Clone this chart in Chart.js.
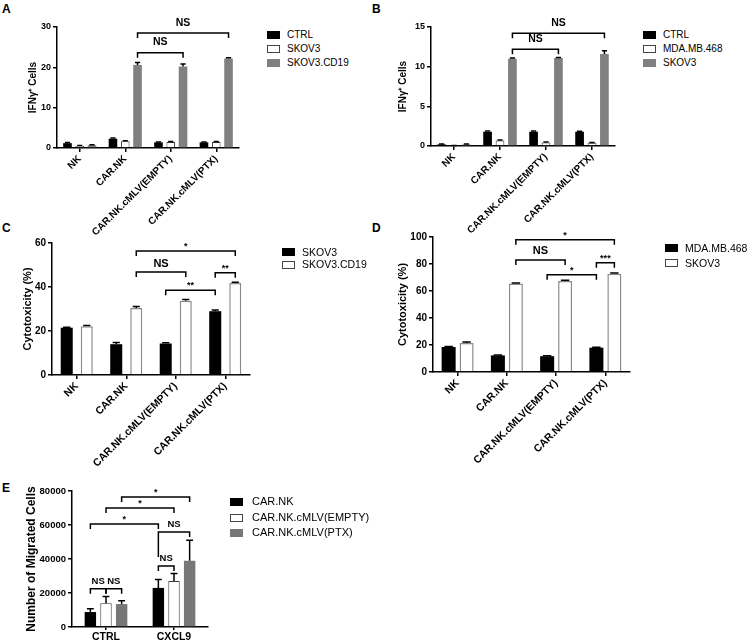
<!DOCTYPE html>
<html>
<head>
<meta charset="utf-8">
<script src="https://cdn.jsdelivr.net/npm/chart.js@4.4.0/dist/chart.umd.min.js"></script>
<style>
  body { margin:0; background:#fff; width:753px; height:642px; position:relative; overflow:hidden;
         font-family:"Liberation Sans", Arial, sans-serif; }
  canvas { position:absolute; }
  .lt { position:absolute; font-weight:bold; font-size:12px; line-height:12px; }
  .sw { position:absolute; width:11px; height:6px; }
  .lg { position:absolute; white-space:nowrap; color:#000; }
</style>
</head>
<body>
<div class="lt" style="left:2px;top:3px">A</div>
<div class="lt" style="left:372px;top:3px">B</div>
<div class="lt" style="left:2px;top:222px">C</div>
<div class="lt" style="left:372px;top:222px">D</div>
<div class="lt" style="left:2px;top:482px">E</div>

<canvas id="cA" width="250" height="250" style="left:0px;top:0px"></canvas>
<canvas id="cB" width="250" height="250" style="left:375px;top:0px"></canvas>
<canvas id="cC" width="260" height="250" style="left:0px;top:220px"></canvas>
<canvas id="cD" width="265" height="250" style="left:375px;top:220px"></canvas>
<canvas id="cE" width="215" height="172" style="left:0px;top:470px"></canvas>

<script>
// groups on the x axis (A-D)
var groups = ['NK', 'CAR.NK', 'CAR.NK.cMLV(EMPTY)', 'CAR.NK.cMLV(PTX)'];

// A - IFNg+ cells
var aSeries = ['CTRL', 'SKOV3', 'SKOV3.CD19'];
var aCtrl = [1.2, 2.3, 1.4, 1.4];
var aSkov3 = [0.5, 1.7, 1.5, 1.5];
var aCd19 = [0.7, 20.6, 20.2, 22.2];
var aCtrlErr = [0.15, 0.2, 0.1, 0.1];
var aSkov3Err = [0.1, 0.1, 0.1, 0.1];
var aCd19Err = [0.1, 0.6, 0.6, 0.2];
var aTicks = [0, 10, 20, 30];

// B - IFNg+ cells
var bSeries = ['CTRL', 'MDA.MB.468', 'SKOV3'];
var bCtrl = [0.2, 1.8, 1.8, 1.8];
var bMda = [0.05, 0.7, 0.45, 0.4];
var bSkov3 = [0.2, 11.0, 11.1, 11.6];
var bCtrlErr = [0.05, 0.1, 0.1, 0.05];
var bMdaErr = [0.02, 0.05, 0.05, 0.05];
var bSkov3Err = [0.05, 0.1, 0.05, 0.4];
var bTicks = [0, 5, 10, 15];

// C - cytotoxicity
var cSeries = ['SKOV3', 'SKOV3.CD19'];
var cSkov3 = [21.5, 14.0, 14.3, 29.0];
var cCd19 = [22.2, 30.5, 33.8, 41.8];
var cSkov3Err = [0.2, 0.8, 0.4, 0.6];
var cCd19Err = [0.3, 0.6, 0.5, 0.4];
var cTicks = [0, 20, 40, 60];

// D - cytotoxicity
var dSeries = ['MDA.MB.468', 'SKOV3'];
var dMda = [18.5, 12.3, 11.7, 18.0];
var dSkov3 = [21.5, 65.5, 67.5, 72.8];
var dMdaErr = [0.3, 0.3, 0.4, 0.3];
var dSkov3Err = [0.8, 0.5, 0.5, 0.5];
var dTicks = [0, 20, 40, 60, 80, 100];

// E - migration
var eGroups = ['CTRL', 'CXCL9'];
var eSeries = ['CAR.NK', 'CAR.NK.cMLV(EMPTY)', 'CAR.NK.cMLV(PTX)'];
var eCarNk = [8800, 23000];
var eEmpty = [14000, 27000];
var ePtx = [13500, 39000];
var eCarNkErr = [2000, 5000];
var eEmptyErr = [4000, 4500];
var ePtxErr = [2000, 12000];
var eTicks = [0, 20000, 40000, 60000, 80000];

// significance brackets: [group, series] -> [group, series], height, text
var aBrackets = [[1, 2, 2, 2, 23.6, 'NS'], [1, 2, 3, 2, 28.5, 'NS']];
var bBrackets = [[1, 2, 2, 2, 12.2, 'NS'], [1, 2, 3, 2, 14.2, 'NS']];
var cBrackets = [[1, 1, 3, 1, 56.4, '*'], [1, 1, 2, 1, 46.8, 'NS'], [2, 0, 3, 0, 38.5, '**'], [3, 0, 3, 1, 46.5, '**']];
var dBrackets = [[1, 1, 3, 1, 98, '*'], [1, 1, 2, 1, 83, 'NS'], [2, 0, 3, 0, 72, '*'], [3, 0, 3, 1, 81, '***']];
var eBrackets = [[0, 0, 0, 1, 22500, 'NS'], [0, 1, 0, 2, 22500, 'NS'], [1, 0, 1, 1, 35900, 'NS'],
                 [1, 0, 1, 2, 55900, 'NS', 25], [0, 0, 1, 0, 60600, '*'], [0, 1, 1, 1, 70000, '*'], [0, 2, 1, 2, 76500, '*']];

var F = '"Liberation Sans", Arial, sans-serif';
var BLACK = {bg: '#000', bd: '#000', bw: 0};
var WHITE = {bg: '#fff', bd: '#3a3a3a', bw: 1};
var WHITE2 = {bg: '#fff', bd: '#8a8a8a', bw: 1.5};
var GRAY = {bg: '#808080', bd: '#808080', bw: 0};
var GRAY2 = {bg: '#777', bd: '#777', bw: 0};

var BRK = {};

var extras = {
  id: 'extras',
  afterDatasetsDraw: function(chart) {
    var ctx = chart.ctx, ys = chart.scales.y;
    var cfg = BRK[chart.canvas.id];
    ctx.save();
    ctx.strokeStyle = '#000';
    ctx.lineWidth = 1.5;
    chart.data.datasets.forEach(function(ds, di) {
      var meta = chart.getDatasetMeta(di);
      meta.data.forEach(function(bar, gi) {
        var e = ds.err[gi];
        if (!e) return;
        var top = ys.getPixelForValue(ds.data[gi] + e);
        var half = bar.width * 0.3;
        ctx.beginPath();
        ctx.moveTo(bar.x, bar.y);
        ctx.lineTo(bar.x, top);
        ctx.moveTo(bar.x - half, top);
        ctx.lineTo(bar.x + half, top);
        ctx.stroke();
      });
    });
    cfg.list.forEach(function(b) {
      var p1 = chart.getDatasetMeta(b[1]).data[b[0]];
      var p2 = chart.getDatasetMeta(b[3]).data[b[2]];
      var y = ys.getPixelForValue(b[4]);
      var dl = b[6] || 5;
      ctx.beginPath();
      ctx.moveTo(p1.x, y + dl);
      ctx.lineTo(p1.x, y);
      ctx.lineTo(p2.x, y);
      ctx.lineTo(p2.x, y + 5);
      ctx.stroke();
      var star = b[5].charAt(0) == '*';
      ctx.fillStyle = '#000';
      ctx.font = 'bold ' + (star ? cfg.star : cfg.ns) + 'px ' + F;
      ctx.textAlign = 'center';
      ctx.textBaseline = 'bottom';
      ctx.fillText(b[5], (p1.x + p2.x) / 2, y - (star ? 0 : cfg.gap));
    });
    ctx.restore();
  }
};

function makeSets(names, values, errs, styles) {
  return names.map(function(n, i) {
    return {
      label: n, data: values[i], err: errs[i],
      backgroundColor: styles[i].bg, borderColor: styles[i].bd, borderWidth: styles[i].bw
    };
  });
}

function legend(x, tx, y, step, names, styles, size) {
  names.forEach(function(n, i) {
    var yc = y + i * step;
    var sw = document.createElement('div');
    sw.className = 'sw';
    sw.style.left = x + 'px';
    sw.style.top = (yc - 4) + 'px';
    sw.style.background = styles[i].bg;
    sw.style.border = '1px solid ' + (styles[i].bw ? '#444' : styles[i].bg);
    document.body.appendChild(sw);
    var t = document.createElement('div');
    t.className = 'lg';
    t.textContent = n;
    t.style.left = tx + 'px';
    t.style.top = (yc - size * 0.6) + 'px';
    t.style.fontSize = size + 'px';
    t.style.lineHeight = (size * 1.2) + 'px';
    document.body.appendChild(t);
  });
}

function panel(id, labels, sets, ticks, title, g) {
  var yMax = ticks[ticks.length - 1];
  BRK[id] = {list: g.brk, ns: g.ns, star: g.star, gap: g.gap};
  sets.forEach(function(s) { s.categoryPercentage = g.cp; s.barPercentage = g.bp; });
  return new Chart(document.getElementById(id), {
    type: 'bar',
    data: {labels: labels, datasets: sets},
    plugins: [extras],
    options: {
      responsive: false,
      animation: false,
      layout: {padding: {left: 0, bottom: 0, top: g.top - g.cy, right: g.cx + g.w - g.right}},
      plugins: {legend: {display: false}, tooltip: {enabled: false}},
      scales: {
        x: {
          grid: {display: true, drawOnChartArea: false, offset: false, tickLength: g.xtl, color: '#000', lineWidth: 1.5},
          border: {color: '#000', width: 1.5},
          ticks: {autoSkip: false, maxRotation: g.rot, minRotation: g.rot, color: '#000', padding: 1,
                  font: {family: F, size: g.xs, weight: 'bold'}},
          afterFit: function(s) { s.height = g.cy + g.h - g.bottom; }
        },
        y: {
          min: 0, max: yMax,
          grid: {display: true, drawOnChartArea: false, tickLength: 4, color: '#000', lineWidth: 1.5},
          border: {color: '#000', width: 1.5},
          ticks: {stepSize: ticks[1] - ticks[0], color: '#000', padding: 2,
                  font: {family: F, size: g.ys, weight: 'bold'},
                  callback: function(v) { return String(v); }},
          title: {display: true, text: title, color: '#000',
                  font: {family: F, size: g.ts, weight: 'bold'},
                  padding: {top: g.tx - g.cx - g.ts * 0.6, bottom: 0}},
          afterFit: function(s) { s.width = g.left - g.cx; }
        }
      }
    }
  });
}

panel('cA', groups,
  makeSets(aSeries, [aCtrl, aSkov3, aCd19], [aCtrlErr, aSkov3Err, aCd19Err], [BLACK, WHITE, GRAY]),
  aTicks, 'IFNγ⁺ Cells',
  {cx: 0, cy: 0, w: 250, h: 250, left: 57, right: 239, top: 27, bottom: 148, tx: 33,
   cp: 0.81, bp: 0.7, rot: 45, xs: 10, ys: 9, ts: 10, xtl: 4, brk: aBrackets, ns: 10.5, star: 10, gap: 5});

panel('cB', groups,
  makeSets(bSeries, [bCtrl, bMda, bSkov3], [bCtrlErr, bMdaErr, bSkov3Err], [BLACK, WHITE, GRAY]),
  bTicks, 'IFNγ⁺ Cells',
  {cx: 375, cy: 0, w: 250, h: 250, left: 431, right: 615, top: 27, bottom: 146, tx: 403,
   cp: 0.81, bp: 0.7, rot: 45, xs: 10, ys: 9, ts: 10, xtl: 4, brk: bBrackets, ns: 10.5, star: 10, gap: 5});

panel('cC', groups,
  makeSets(cSeries, [cSkov3, cCd19], [cSkov3Err, cCd19Err], [BLACK, WHITE2]),
  cTicks, 'Cytotoxicity (%)',
  {cx: 0, cy: 220, w: 260, h: 250, left: 52, right: 250, top: 243, bottom: 375, tx: 28,
   cp: 0.81, bp: 0.6, rot: 45, xs: 10.5, ys: 10, ts: 11, xtl: 4, brk: cBrackets, ns: 11, star: 9, gap: 3});

panel('cD', groups,
  makeSets(dSeries, [dMda, dSkov3], [dMdaErr, dSkov3Err], [BLACK, WHITE2]),
  dTicks, 'Cytotoxicity (%)',
  {cx: 375, cy: 220, w: 265, h: 250, left: 433, right: 630, top: 237, bottom: 372, tx: 403,
   cp: 0.73, bp: 0.78, rot: 45, xs: 10.5, ys: 10, ts: 11, xtl: 4, brk: dBrackets, ns: 11, star: 9, gap: 3});

panel('cE', eGroups,
  makeSets(eSeries, [eCarNk, eEmpty, ePtx], [eCarNkErr, eEmptyErr, ePtxErr], [BLACK, WHITE, GRAY2]),
  eTicks, 'Number of Migrated Cells',
  {cx: 0, cy: 470, w: 215, h: 172, left: 72, right: 208, top: 491, bottom: 627, tx: 32,
   cp: 0.69, bp: 0.73, rot: 0, xs: 10.5, ys: 9.5, ts: 12, xtl: 3, brk: eBrackets, ns: 9.5, star: 9, gap: 3});

legend(267, 287, 35, 14, aSeries, [BLACK, WHITE, GRAY], 10);
legend(643, 663, 35, 14, bSeries, [BLACK, WHITE, GRAY], 10);
legend(282, 302, 252, 12.5, cSeries, [BLACK, WHITE2], 10.5);
legend(665, 685, 248, 15, dSeries, [BLACK, WHITE2], 10.5);
legend(230, 252, 502, 15.5, eSeries, [BLACK, WHITE, GRAY2], 11);
</script>
</body>
</html>
